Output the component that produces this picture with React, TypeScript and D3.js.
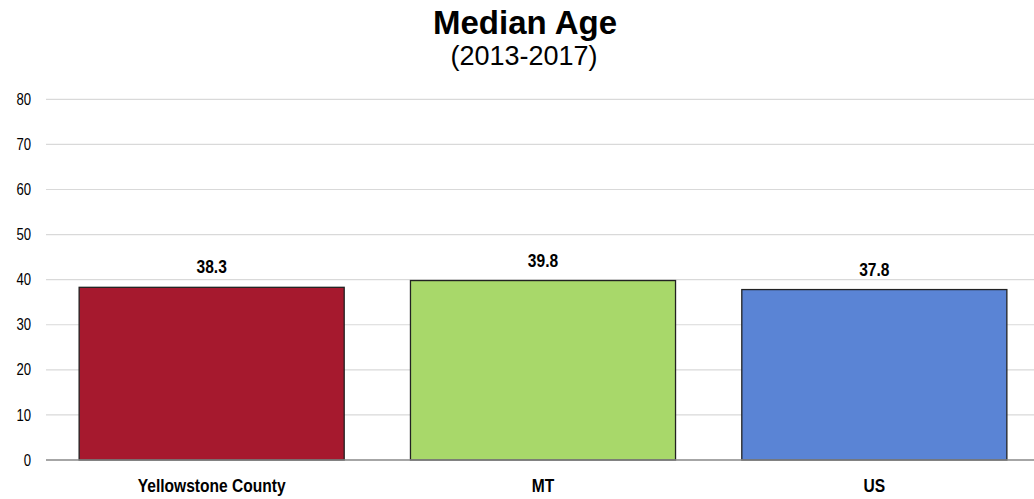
import React from "react";
import * as d3 from "d3";

const categories = ["Yellowstone County", "MT", "US"];
const values = [38.3, 39.8, 37.8];
const colors = ["#A6192E", "#A8D86A", "#5A84D5"];
const yTicks = [0, 10, 20, 30, 40, 50, 60, 70, 80];
const title = "Median Age";
const subtitle = "(2013-2017)";

const W = 1034;
const H = 499;
const regular = "'Liberation Sans', Arial, sans-serif";
const SX = 0.82;

function NarrowText(props: { x: number; y: number; anchor: string; size: number; bold?: boolean; dy?: string; children: React.ReactNode }) {
  return (
    <text
      transform={`translate(${props.x},${props.y}) scale(${SX},1)`}
      dy={props.dy}
      textAnchor={props.anchor}
      fontFamily={regular}
      fontWeight={props.bold ? "bold" : "normal"}
      fontSize={props.size}
      fill="#000"
    >
      {props.children}
    </text>
  );
}

export default function App() {
  const x = d3.scaleBand<string>().domain(categories).range([46, 1040]).paddingInner(0.2).paddingOuter(0.1);
  const y = d3.scaleLinear().domain([0, 80]).range([460, 99.3]);
  return (
    <svg width={W} height={H} style={{ position: "absolute", left: 0, top: 0, background: "#fff" }}>
      <text x={525} y={34} textAnchor="middle" fontFamily={regular} fontWeight="bold" fontSize={33} fill="#000">{title}</text>
      <text x={524} y={65} textAnchor="middle" fontFamily={regular} fontSize={27} fill="#000">{subtitle}</text>
      {yTicks.map((t) => (
        <g key={t}>
          {t !== 0 && <line x1={46} x2={W} y1={y(t)} y2={y(t)} stroke="#d9d9d9" strokeWidth={1.2} />}
          <NarrowText x={31} y={y(t)} dy="0.35em" anchor="end" size={16}>{t}</NarrowText>
        </g>
      ))}
      {categories.map((c, i) => (
        <g key={c}>
          <rect x={x(c)} y={y(values[i])} width={x.bandwidth()} height={y(0) - y(values[i])} fill={colors[i]} stroke="#222" strokeWidth={1.3} />
          <NarrowText x={(x(c) as number) + x.bandwidth() / 2} y={y(values[i]) - 14} anchor="middle" size={19} bold>{values[i].toFixed(1)}</NarrowText>
          <NarrowText x={(x(c) as number) + x.bandwidth() / 2} y={492} anchor="middle" size={19} bold>{c}</NarrowText>
        </g>
      ))}
      <line x1={46} x2={W} y1={y(0)} y2={y(0)} stroke="#888" strokeWidth={1.3} />
    </svg>
  );
}
